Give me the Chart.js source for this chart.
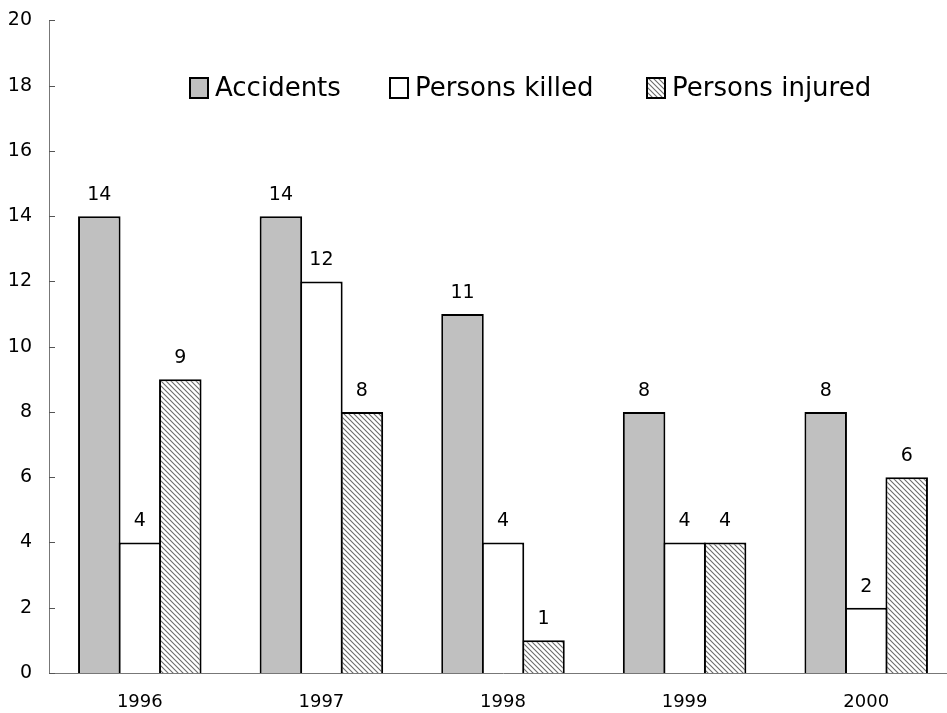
<!DOCTYPE html>
<html>
<head>
<meta charset="utf-8">
<script src="https://cdn.jsdelivr.net/npm/chart.js@4/dist/chart.umd.min.js"></script>
<style>
  html, body { margin: 0; background: #fff; overflow: hidden; }
  #wrap { width: 957px; height: 713px; }
</style>
</head>
<body>
<div id="wrap"><canvas id="chart" width="957" height="713"></canvas></div>
<script>
const years = ["1996", "1997", "1998", "1999", "2000"];
const accidents = [14, 14, 11, 8, 8];
const killed = [4, 12, 4, 4, 2];
const injured = [9, 8, 1, 4, 6];
const seriesNames = ["Accidents", "Persons killed", "Persons injured"];
const yTicks = [0, 2, 4, 6, 8, 10, 12, 14, 16, 18, 20];

const FONT = "'DejaVu Sans', sans-serif";

function hatch() {
  const n = 5;
  const c = document.createElement("canvas");
  c.width = n; c.height = n;
  const g = c.getContext("2d");
  g.fillStyle = "#fff";
  g.fillRect(0, 0, n, n);
  g.strokeStyle = "#6a6a6a";
  g.lineWidth = 1.1;
  g.beginPath();
  g.moveTo(-1, -1); g.lineTo(n + 1, n + 1);
  g.moveTo(-n - 1, -1); g.lineTo(1, n + 1);
  g.moveTo(n - 1, -1); g.lineTo(2 * n + 1, n + 1);
  g.stroke();
  return g.createPattern(c, "repeat");
}
const hatchFill = hatch();
const fills = ["#c0c0c0", "#ffffff", hatchFill];

// value labels above bars
const valueLabels = {
  id: "valueLabels",
  afterDatasetsDraw(chart) {
    const ctx = chart.ctx;
    ctx.save();
    ctx.font = "19px " + FONT;
    ctx.fillStyle = "#000";
    ctx.textAlign = "center";
    ctx.textBaseline = "alphabetic";
    chart.data.datasets.forEach((ds, i) => {
      chart.getDatasetMeta(i).data.forEach((bar, j) => {
        ctx.fillText(ds.data[j], bar.x, bar.y - 16);
      });
    });
    ctx.restore();
  }
};

// inward tick marks on the y axis
const innerTicks = {
  id: "innerTicks",
  afterDraw(chart) {
    const y = chart.scales.y;
    const ctx = chart.ctx;
    ctx.save();
    ctx.strokeStyle = "#555";
    ctx.lineWidth = 1;
    yTicks.forEach(v => {
      const py = Math.round(y.getPixelForValue(v)) + 0.5;
      ctx.beginPath();
      ctx.moveTo(y.right, py);
      ctx.lineTo(y.right + 6, py);
      ctx.stroke();
    });
    ctx.restore();
  }
};

// legend drawn inside the plot area
const innerLegend = {
  id: "innerLegend",
  afterDraw(chart) {
    const ctx = chart.ctx;
    const pos = [190, 390, 647];
    ctx.save();
    ctx.font = "26px " + FONT;
    ctx.textBaseline = "middle";
    seriesNames.forEach((name, i) => {
      ctx.fillStyle = fills[i];
      ctx.fillRect(pos[i], 78, 18, 20);
      ctx.strokeStyle = "#000";
      ctx.lineWidth = 2;
      ctx.strokeRect(pos[i], 78, 18, 20);
      ctx.fillStyle = "#000";
      ctx.fillText(name, pos[i] + 25, 89);
    });
    ctx.restore();
  }
};

new Chart(document.getElementById("chart"), {
  type: "bar",
  data: {
    labels: years,
    datasets: [accidents, killed, injured].map((d, i) => ({
      label: seriesNames[i],
      data: d,
      backgroundColor: fills[i],
      borderColor: "#000",
      borderWidth: 2,
      categoryPercentage: 0.669,
      barPercentage: 1.05
    }))
  },
  options: {
    responsive: false,
    animation: false,
    layout: { padding: { top: 12, right: 0, left: 0, bottom: 0 } },
    plugins: { legend: { display: false }, tooltip: { enabled: false } },
    scales: {
      x: {
        grid: { display: false },
        border: { color: "#777", width: 1 },
        ticks: { color: "#000", font: { family: FONT, size: 18 }, padding: 11 },
        afterFit(s) { s.height = 40; }
      },
      y: {
        min: 0, max: 20,
        afterBuildTicks(s) { s.ticks = yTicks.map(v => ({ value: v })); },
        grid: { display: false },
        border: { color: "#777", width: 1 },
        ticks: { color: "#000", font: { family: FONT, size: 19 }, padding: 9 },
        afterFit(s) { s.width = 49; }
      }
    }
  },
  plugins: [valueLabels, innerTicks, innerLegend]
});
</script>
</body>
</html>
